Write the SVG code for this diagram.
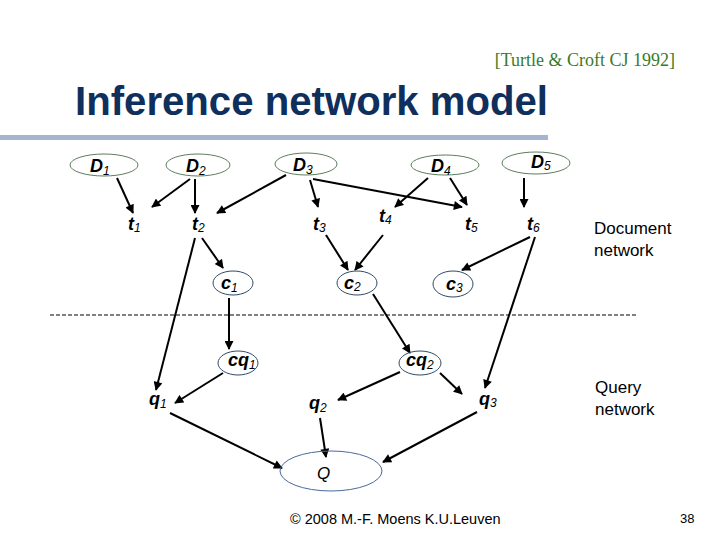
<svg xmlns="http://www.w3.org/2000/svg" width="720" height="540" viewBox="0 0 720 540">
<style>
.lbl{font-family:"Liberation Sans",Arial,sans-serif;font-style:italic;font-weight:bold;font-size:18px;fill:#000}
.sub{font-weight:normal;font-size:12px}
.dn{fill:none;stroke:#5d7d5d;stroke-width:1}
.cn{fill:none;stroke:#2f4a66;stroke-width:1}
.e{stroke:#000;stroke-width:2;fill:none;marker-end:url(#ah)}
.side{font-family:"Liberation Sans",Arial,sans-serif;font-size:17px;fill:#000}
</style>
<defs>
<marker id="ah" viewBox="0 0 10 10" refX="9" refY="5" markerWidth="5" markerHeight="4.5" orient="auto" markerUnits="strokeWidth">
<path d="M0,0 L10,5 L0,10 z" fill="#000"/>
</marker>
</defs>
<rect width="720" height="540" fill="#fff"/>
<text x="675" y="66" text-anchor="end" font-family="Liberation Serif,serif" font-size="18" fill="#3a7a2a">[Turtle &amp; Croft CJ 1992]</text>
<text x="75" y="115" font-family="Liberation Sans,Arial,sans-serif" font-weight="bold" font-size="40" fill="#0f2f5c" textLength="473" lengthAdjust="spacingAndGlyphs">Inference network model</text>
<rect x="0" y="135" width="548" height="5" fill="#a5b4cf"/>
<line x1="50" y1="315" x2="638" y2="315" stroke="#000" stroke-width="1" stroke-dasharray="4,2"/>
<g id="connectors">
<line class="e" x1="117" y1="178" x2="133" y2="213"/>
<line class="e" x1="190" y1="179" x2="152" y2="207"/>
<line class="e" x1="195" y1="179" x2="195" y2="213"/>
<line class="e" x1="286" y1="175" x2="217" y2="213"/>
<line class="e" x1="310" y1="180" x2="318" y2="207"/>
<line class="e" x1="313" y1="179" x2="462" y2="207"/>
<line class="e" x1="428" y1="178" x2="395" y2="207"/>
<line class="e" x1="450" y1="178" x2="467" y2="205"/>
<line class="e" x1="524" y1="178" x2="524" y2="207"/>
<line class="e" x1="202" y1="238" x2="223" y2="268"/>
<line class="e" x1="195" y1="238" x2="156" y2="390"/>
<line class="e" x1="326" y1="235" x2="348" y2="270"/>
<line class="e" x1="383" y1="235" x2="355" y2="270"/>
<line class="e" x1="530" y1="237" x2="462" y2="270"/>
<line class="e" x1="535" y1="237" x2="485" y2="388"/>
<line class="e" x1="229" y1="298" x2="229" y2="349"/>
<line class="e" x1="373" y1="294" x2="410" y2="353"/>
<line class="e" x1="223" y1="373" x2="175" y2="403"/>
<line class="e" x1="400" y1="372" x2="338" y2="400"/>
<line class="e" x1="440" y1="373" x2="462" y2="394"/>
<line class="e" x1="170" y1="413" x2="282" y2="468"/>
<line class="e" x1="320" y1="418" x2="326" y2="457"/>
<line class="e" x1="477" y1="412" x2="383" y2="462"/>
</g>
<g id="D1"><ellipse class="dn" cx="104" cy="165" rx="34" ry="11"/><text class="lbl" x="90" y="172">D<tspan class="sub" dy="3">1</tspan></text></g>
<g id="D2"><ellipse class="dn" cx="198" cy="165" rx="32" ry="11"/><text class="lbl" x="186" y="172">D<tspan class="sub" dy="3">2</tspan></text></g>
<g id="D3"><ellipse class="dn" cx="306" cy="164" rx="31" ry="11"/><text class="lbl" x="293" y="171">D<tspan class="sub" dy="3">3</tspan></text></g>
<g id="D4"><ellipse class="dn" cx="445" cy="165" rx="34" ry="10"/><text class="lbl" x="431" y="172">D<tspan class="sub" dy="3">4</tspan></text></g>
<g id="D5"><ellipse class="dn" cx="536" cy="163" rx="34" ry="11"/><text class="lbl" x="531" y="168">D<tspan class="sub" dy="2">5</tspan></text></g>
<g id="t1"><text class="lbl" x="128" y="230">t<tspan class="sub" dy="2">1</tspan></text></g>
<g id="t2"><text class="lbl" x="192" y="230">t<tspan class="sub" dy="2">2</tspan></text></g>
<g id="t3"><text class="lbl" x="313" y="230">t<tspan class="sub" dy="2">3</tspan></text></g>
<g id="t4"><text class="lbl" x="379" y="222">t<tspan class="sub" dy="2">4</tspan></text></g>
<g id="t5"><text class="lbl" x="465" y="230">t<tspan class="sub" dy="2">5</tspan></text></g>
<g id="t6"><text class="lbl" x="527" y="230">t<tspan class="sub" dy="2">6</tspan></text></g>
<g id="c1"><ellipse class="cn" cx="233" cy="283" rx="20" ry="12"/><text class="lbl" x="221" y="289">c<tspan class="sub" dy="3">1</tspan></text></g>
<g id="c2"><ellipse class="cn" cx="357" cy="283" rx="20" ry="12"/><text class="lbl" x="344" y="289">c<tspan class="sub" dy="2">2</tspan></text></g>
<g id="c3"><ellipse class="cn" cx="453" cy="284" rx="20" ry="13"/><text class="lbl" x="446" y="290">c<tspan class="sub" dy="2">3</tspan></text></g>
<g id="cq1"><ellipse class="cn" cx="238" cy="363" rx="20" ry="12"/><text class="lbl" x="228" y="366">cq<tspan class="sub" dy="3">1</tspan></text></g>
<g id="cq2"><ellipse class="cn" cx="420" cy="363" rx="21" ry="12"/><text class="lbl" x="406" y="366">cq<tspan class="sub" dy="3">2</tspan></text></g>
<g id="q1"><text class="lbl" x="149" y="405">q<tspan class="sub" dy="3">1</tspan></text></g>
<g id="q2"><text class="lbl" x="309" y="409">q<tspan class="sub" dy="3">2</tspan></text></g>
<g id="q3"><text class="lbl" x="479" y="405">q<tspan class="sub" dy="2">3</tspan></text></g>
<g id="Q"><ellipse cx="331" cy="471" rx="51" ry="20" fill="none" stroke="#4a6a9a" stroke-width="1"/><text class="lbl" x="317" y="479" style="font-weight:normal;font-size:17px">Q</text></g>
<text class="side" x="594" y="234">Document</text>
<text class="side" x="594" y="256">network</text>
<text class="side" x="595" y="393">Query</text>
<text class="side" x="595" y="415">network</text>
<text x="290" y="524" font-family="Liberation Sans,Arial,sans-serif" font-size="14.5" fill="#000">© 2008 M.-F. Moens  K.U.Leuven</text>
<text x="680" y="523" font-family="Liberation Sans,Arial,sans-serif" font-size="13" fill="#000">38</text>
</svg>
